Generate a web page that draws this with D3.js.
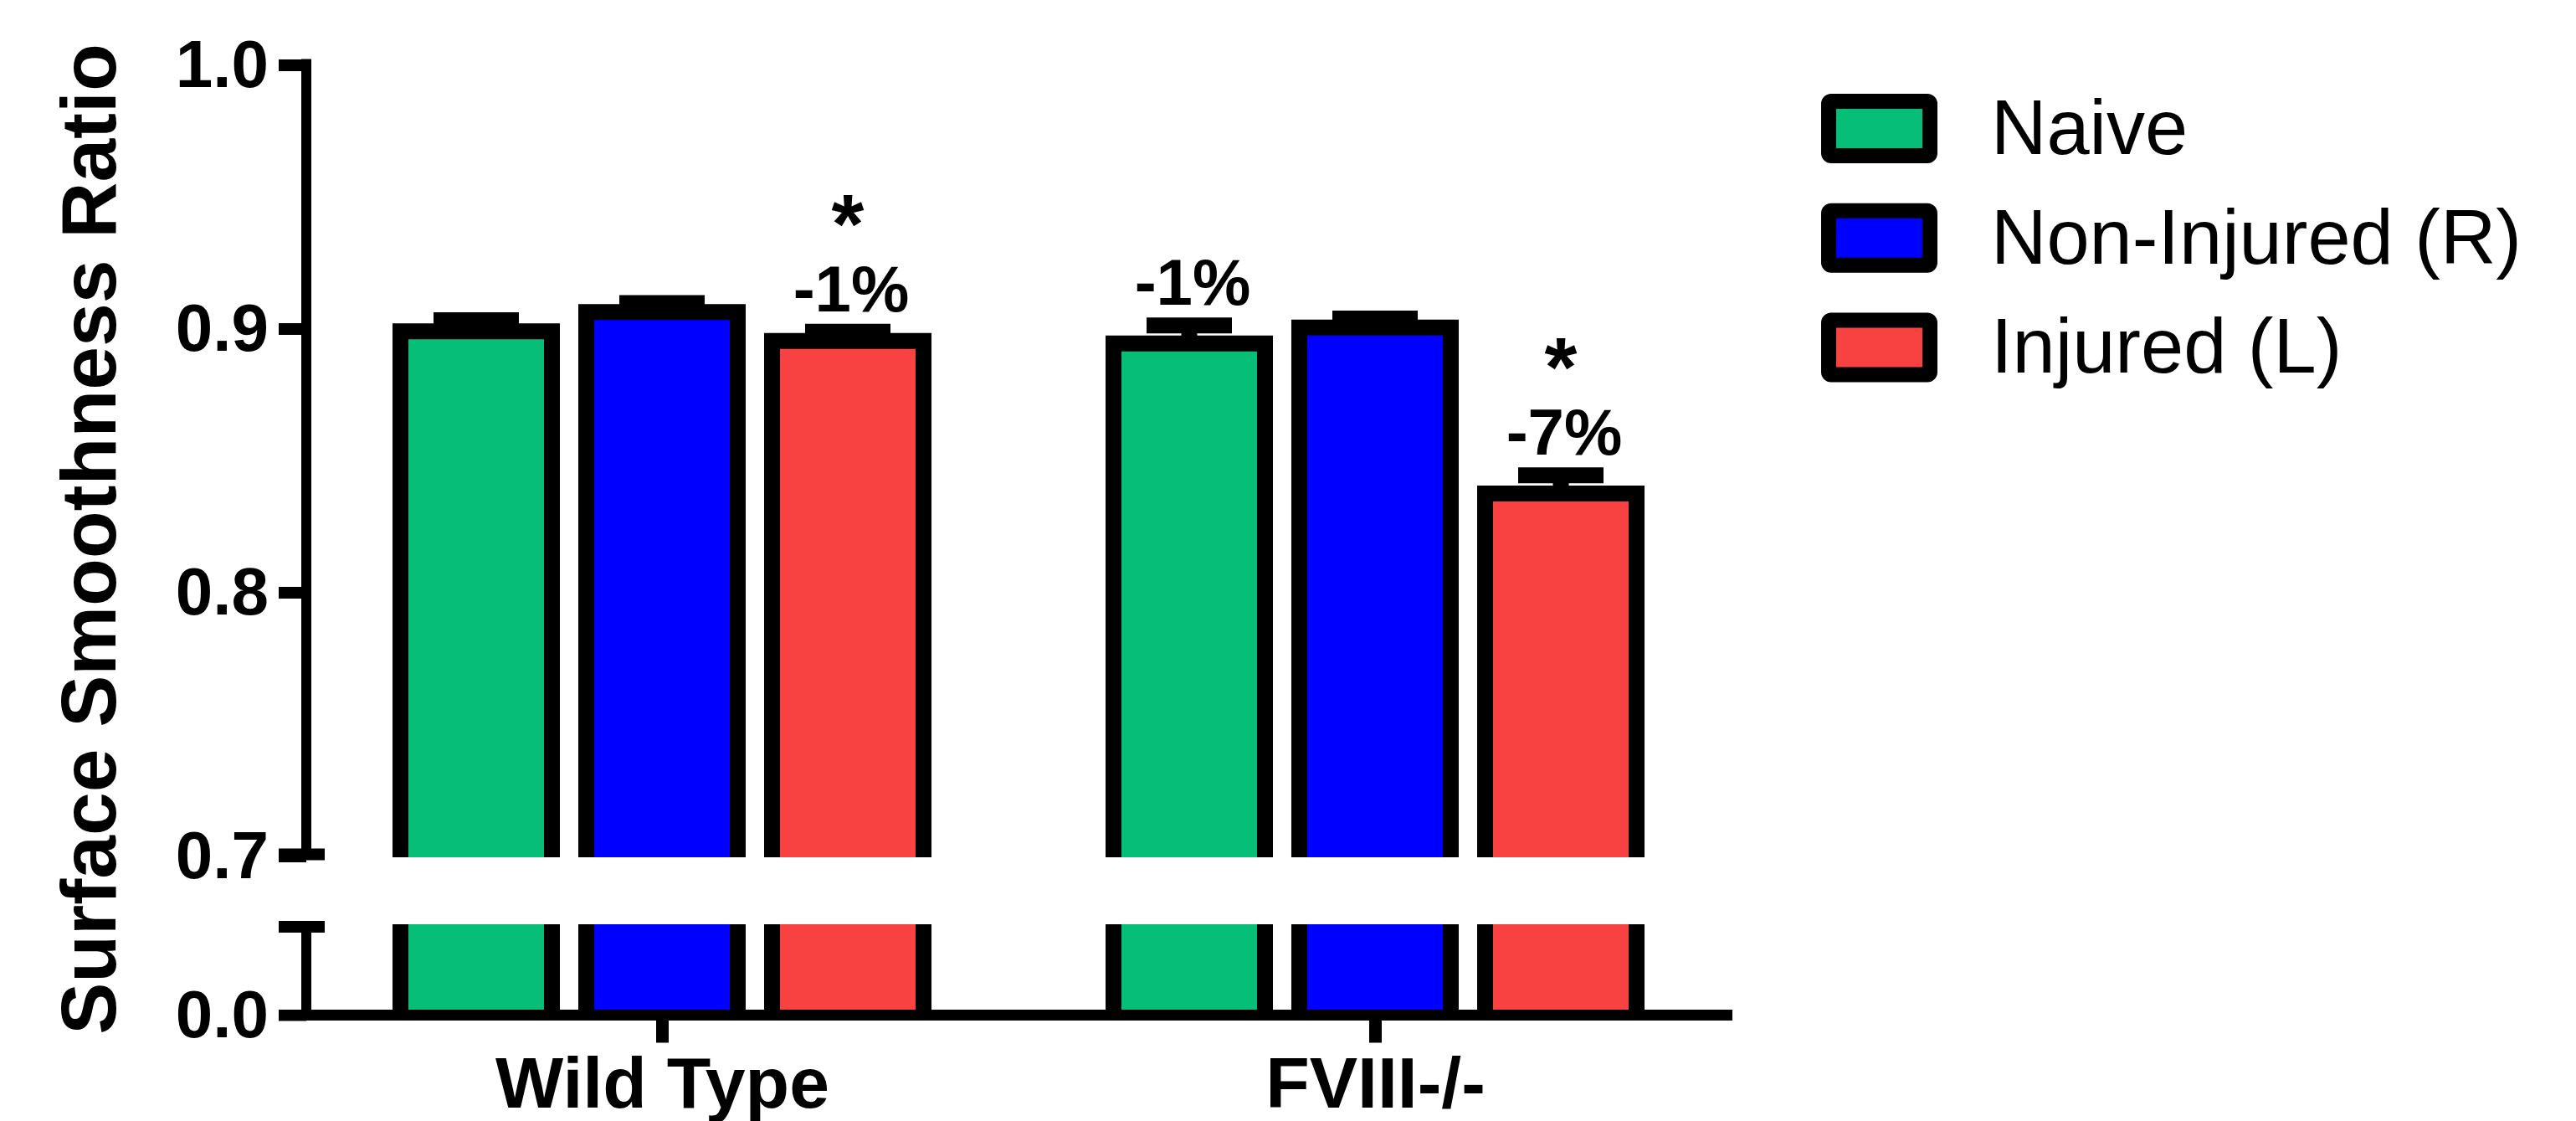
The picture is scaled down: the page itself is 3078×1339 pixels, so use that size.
<!DOCTYPE html>
<html>
<head>
<meta charset="utf-8">
<script src="https://cdn.jsdelivr.net/npm/d3@7/dist/d3.min.js"></script>
<style>
  html, body { margin: 0; padding: 0; background: #ffffff; }
  svg { display: block; }
  text { font-family: "Liberation Sans", Arial, sans-serif; fill: #000; }
</style>
</head>
<body>
<svg id="chart" width="3078" height="1339"></svg>
<script>
// Groups, series and measured values (mean ± SEM)
const groups = ["Wild Type", "FVIII-/-"];
const series = ["Naive", "Non-Injured (R)", "Injured (L)"];
const colors = ["#06BE78", "#0000FF", "#F84242"];
const wildTypeMeans = [0.899, 0.9063, 0.8953];
const wildTypeSems  = [0.0042, 0.0034, 0.0035];
const fviiiMeans    = [0.8944, 0.9004, 0.8375];
const fviiiSems     = [0.0068, 0.0034, 0.0069];
const upperTicks = [0.7, 0.8, 0.9, 1.0];
const lowerTicks = [0.0];
// Percent change and significance markers, per group and series
const wildTypeNotes = [null, null, { star: "*", pct: "-1%" }];
const fviiiNotes    = [{ star: "", pct: "-1%" }, null, { star: "*", pct: "-7%" }];

const meansByGroup = [wildTypeMeans, fviiiMeans];
const semsByGroup = [wildTypeSems, fviiiSems];
const notesByGroup = [wildTypeNotes, fviiiNotes];

const svg = d3.select("#chart");

// Geometry
const axisX = 366;
const axisLeftEnd = 333;
const axisRightEnd = 2070;
const strokeW = 19;
const barW = 181;      // centre-line width; outline extends half a stroke each side
const capHalf = 51;

// Scales: broken y axis (upper segment 0.7–1.0, lower segment near 0)
const yTop = d3.scaleLinear().domain([0.7, 1.0]).range([1022.5, 77.5]);
const yLow = d3.scaleLinear().domain([0, 0.05]).range([1212.5, 1107]);
const upperBottom = 1024;
const lowerTop = 1104;

const x0 = d3.scalePoint().domain(groups).range([791, 1643]);
const x1 = d3.scalePoint().domain(series).range([-222, 222]);
const color = d3.scaleOrdinal().domain(series).range(colors);

// Flatten data into bar records
const bars = [];
groups.forEach((g, gi) => {
  series.forEach((s, si) => {
    bars.push({
      group: g, series: s,
      mean: meansByGroup[gi][si],
      sem: semsByGroup[gi][si],
      note: notesByGroup[gi][si],
      cx: x0(g) + x1(s)
    });
  });
});

const barLayer = svg.append("g");

bars.forEach(d => {
  const left = d.cx - barW / 2, right = d.cx + barW / 2;
  const top = yTop(d.mean);

  // Upper segment of each bar (open at the axis break)
  barLayer.append("rect")
    .attr("x", left).attr("y", top)
    .attr("width", barW).attr("height", upperBottom - top)
    .attr("fill", color(d.series));
  barLayer.append("path")
    .attr("d", `M${left},${upperBottom}V${top}H${right}V${upperBottom}`)
    .attr("fill", "none").attr("stroke", "#000")
    .attr("stroke-width", strokeW).attr("stroke-linejoin", "miter");

  // Lower segment
  const lowBottom = yLow(0);
  barLayer.append("rect")
    .attr("x", left).attr("y", lowerTop)
    .attr("width", barW).attr("height", lowBottom - lowerTop)
    .attr("fill", color(d.series));
  barLayer.append("path")
    .attr("d", `M${left},${lowerTop}V${lowBottom}M${right},${lowerTop}V${lowBottom}`)
    .attr("fill", "none").attr("stroke", "#000").attr("stroke-width", strokeW);

  // Error bar (upper whisker with cap)
  const yErr = yTop(d.mean + d.sem);
  barLayer.append("path")
    .attr("d", `M${d.cx},${top}V${yErr}M${d.cx - capHalf},${yErr}H${d.cx + capHalf}`)
    .attr("fill", "none").attr("stroke", "#000").attr("stroke-width", strokeW);
});

// Annotations above selected bars
bars.filter(d => d.note).forEach(d => {
  const capTop = yTop(d.mean + d.sem) - strokeW / 2;
  const base = capTop - 15;
  barLayer.append("text")
    .attr("x", d.cx + 4).attr("y", base)
    .attr("text-anchor", "middle")
    .style("font-weight", "bold").style("font-size", "78px")
    .text(d.note.pct);
  if (d.note.star) {
    barLayer.append("text")
      .attr("x", d.cx).attr("y", base - 70)
      .attr("text-anchor", "middle")
      .style("font-weight", "bold").style("font-size", "100px")
      .text(d.note.star);
  }
});

// Y axis — upper segment
const axisUpper = d3.axisLeft(yTop)
  .tickValues(upperTicks)
  .tickFormat(d3.format(".1f"))
  .tickSize(axisX - axisLeftEnd)
  .tickPadding(12);
const gUp = svg.append("g").attr("transform", `translate(${axisX},0)`).call(axisUpper);
gUp.select(".domain").remove();
gUp.selectAll(".tick line").attr("stroke", "#000").attr("stroke-width", 14);
gUp.selectAll(".tick text")
  .style("font-family", "'Liberation Sans', Arial, sans-serif")
  .style("font-weight", "bold").style("font-size", "80px")
  .attr("fill", "#000");

// Y axis — lower segment
const axisLower = d3.axisLeft(yLow)
  .tickValues(lowerTicks)
  .tickFormat(d3.format(".1f"))
  .tickSize(axisX - axisLeftEnd)
  .tickPadding(12);
const gLow = svg.append("g").attr("transform", `translate(${axisX},0)`).call(axisLower);
gLow.select(".domain").remove();
gLow.selectAll(".tick line").attr("stroke", "#000").attr("stroke-width", 13);
gLow.selectAll(".tick text")
  .style("font-family", "'Liberation Sans', Arial, sans-serif")
  .style("font-weight", "bold").style("font-size", "80px")
  .attr("fill", "#000");

// Axis lines with break caps
const axisPaths = svg.append("g").attr("fill", "none").attr("stroke", "#000");
axisPaths.append("path")
  .attr("d", `M${axisX},${yTop(1.0) - 7}V${yTop(0.7)}`)
  .attr("stroke-width", 12);
axisPaths.append("path")
  .attr("d", `M${axisLeftEnd},${yTop(0.7) - 2}H388`)
  .attr("stroke-width", 14);
axisPaths.append("path")
  .attr("d", `M${axisLeftEnd},${yLow.range()[1]}H388`)
  .attr("stroke-width", 14);
axisPaths.append("path")
  .attr("d", `M${axisX},${yLow.range()[1]}V${yLow(0)}`)
  .attr("stroke-width", 12);

// X axis
const axisBottom = d3.axisBottom(x0).tickSize(33).tickPadding(16);
const gX = svg.append("g").attr("transform", `translate(0,${yLow(0)})`).call(axisBottom);
gX.select(".domain").remove();
gX.selectAll(".tick line").attr("stroke", "#000").attr("stroke-width", 15);
gX.selectAll(".tick text")
  .style("font-family", "'Liberation Sans', Arial, sans-serif")
  .style("font-weight", "bold").style("font-size", "86px")
  .attr("fill", "#000");
axisPaths.append("path")
  .attr("d", `M${axisLeftEnd},${yLow(0)}H${axisRightEnd}`)
  .attr("stroke-width", 13);

// Y axis title
svg.append("text")
  .attr("transform", "translate(138,644) rotate(-90)")
  .attr("text-anchor", "middle")
  .style("font-weight", "bold").style("font-size", "93px")
  .text("Surface Smoothness Ratio");

// Legend
const legend = svg.append("g");
series.forEach((s, i) => {
  const cy = 153.5 + i * 130.7;
  legend.append("rect")
    .attr("x", 2185).attr("y", cy - 32.5)
    .attr("width", 121).attr("height", 65)
    .attr("rx", 3)
    .attr("fill", color(s)).attr("stroke", "#000").attr("stroke-width", 18);
  legend.append("text")
    .attr("x", 2379).attr("y", 184 + i * 130.7)
    .style("font-size", "92px")
    .text(s);
});
</script>
</body>
</html>
